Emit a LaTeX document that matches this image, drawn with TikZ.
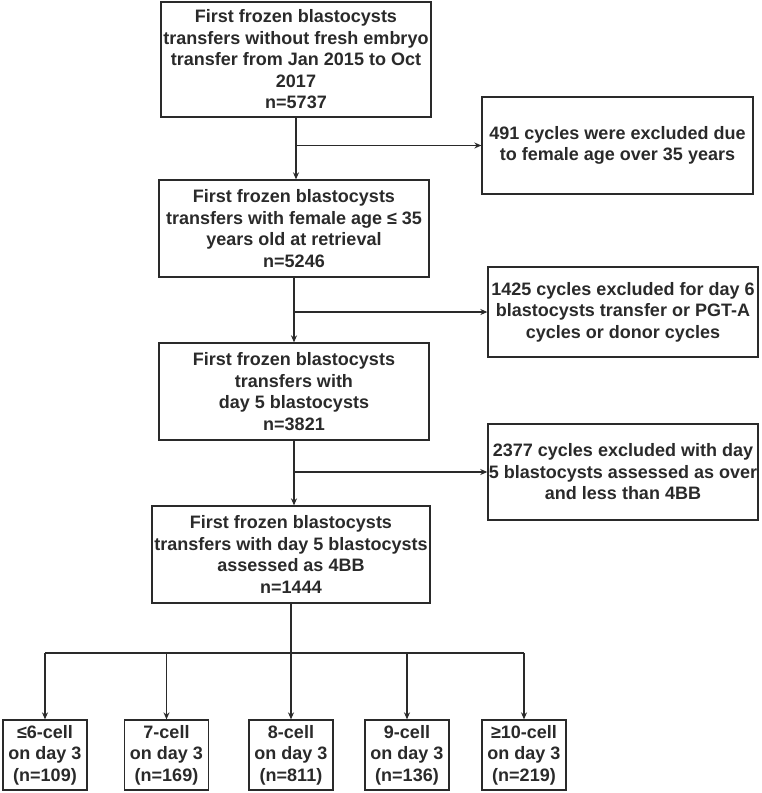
\documentclass[tikz,border=0pt]{standalone}
\usepackage{fontspec}
\setmainfont{Liberation Sans}
\usetikzlibrary{arrows.meta}
\definecolor{ink}{HTML}{2A2A2A}
\newcommand\boxfont{\fontsize{18}{21.5}\selectfont\bfseries}

\begin{document}
\begin{tikzpicture}[x=1pt,y=-1pt,-,>={Stealth[length=7pt,width=6pt]},line width=1.3pt,draw=ink,
  main node/.style={draw=ink,text=ink,align=center,font=\boxfont,inner sep=1pt,minimum width=270pt},
  side node/.style={main node,minimum width=270pt},
  cell node/.style={draw=ink,text=ink,align=center,font=\boxfont,inner sep=0pt,minimum width=84pt,minimum height=70pt}]
  \useasboundingbox (0,0) rectangle (762,793);

  \node[main node,minimum height=115pt] (1) at (296,59.5) {First frozen blastocysts\\transfers without fresh embryo\\transfer from Jan 2015 to Oct\\2017\\n=5737};
  \node[main node,minimum height=97pt] (2) at (294,228.5) {First frozen blastocysts\\transfers with female age ≤ 35\\years old at retrieval\\n=5246};
  \node[main node,minimum height=97pt] (3) at (294,391.5) {First frozen blastocysts\\transfers with\\day 5 blastocysts\\n=3821};
  \node[main node,minimum width=278pt,minimum height=97pt] (4) at (291,554.5) {First frozen blastocysts\\transfers with day 5 blastocysts\\assessed as 4BB\\n=1444};

  \node[side node,minimum width=271pt,minimum height=97pt] (e1) at (617.5,145.5) {491 cycles were excluded due\\to female age over 35 years};
  \node[side node,minimum height=90pt] (e2) at (623,312) {1425 cycles excluded for day 6\\blastocysts transfer or PGT-A\\cycles or donor cycles};
  \node[side node,minimum height=96pt] (e3) at (623,472) {2377 cycles excluded with day\\5 blastocysts assessed as over\\and less than 4BB};

  \node[cell node] (c1) at (45,755) {≤6-cell\\on day 3\\(n=109)};
  \node[cell node] (c2) at (166.5,755) {7-cell\\on day 3\\(n=169)};
  \node[cell node] (c3) at (291,755) {8-cell\\on day 3\\(n=811)};
  \node[cell node] (c4) at (407,755) {9-cell\\on day 3\\(n=136)};
  \node[cell node] (c5) at (524,755) {≥10-cell\\on day 3\\(n=219)};

  \coordinate (split) at (291,653);

  % main flow
  \draw[->] (1.south) -- (1.south |- 2.north);
  \draw[->] (2.south) -- (2.south |- 3.north);
  \draw[->] (3.south) -- (3.south |- 4.north);

  % exclusions
  \draw[->] (1.south |- e1.west) -- (e1.west);
  \draw[->] (2.south |- e2.west) -- (e2.west);
  \draw[->] (3.south |- e3.west) -- (e3.west);

  % split by cell number
  \draw (4.south) -- (split);
  \draw (c1.north |- split) -- (c5.north |- split);
  \foreach \c in {c1,c2,c3,c4,c5}
    \draw[->] (\c.north |- split) -- (\c.north);
\end{tikzpicture}
\end{document}
